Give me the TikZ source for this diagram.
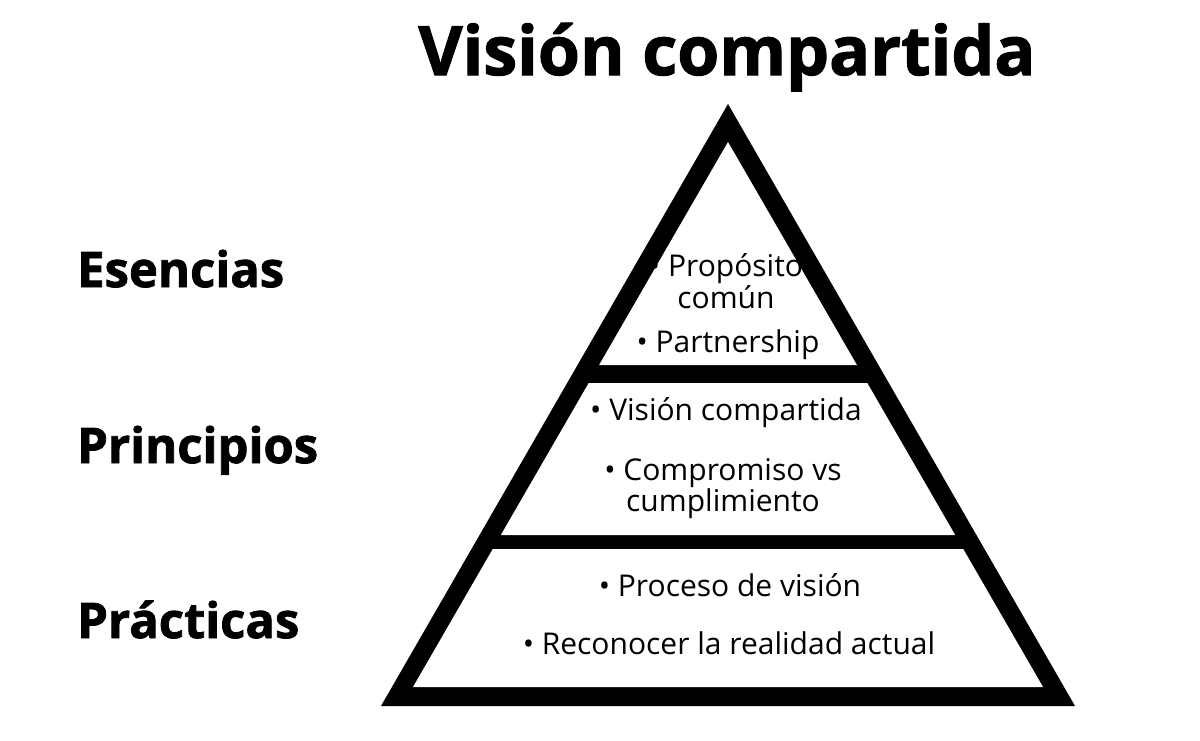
\documentclass[tikz,border=0pt]{standalone}
\usepackage{fontspec}
\setmainfont{Open Sans}
\newfontfamily\heavyfont{Open Sans}[BoldFeatures={FakeBold=1.6}]
\usepackage{tikz}
\usetikzlibrary{positioning, calc}
\definecolor{pyrInk}{HTML}{000000}
\definecolor{pyrPaper}{HTML}{FFFFFF}
\tikzset{
  heading/.style={font=\heavyfont\bfseries\fontsize{68}{74}\selectfont,
    text=pyrInk, anchor=base, inner sep=0pt},
  levelname/.style={font=\heavyfont\bfseries\fontsize{49}{54}\selectfont,
    text=pyrInk, anchor=base west, inner sep=0pt},
  item/.style={font=\fontsize{30}{25}\selectfont, text=pyrInk,
    align=center, anchor=base, inner sep=0pt},
}
% white band inside the pyramid between two heights (px, downwards)
\newcommand{\pyrband}[2]{%
  \fill[pyrPaper]
    ({728-0.578*(#1-142)},#1) --
    ({728+0.578*(#1-142)},#1) --
    ({728+0.578*(#2-142)},#2) --
    ({728-0.578*(#2-142)},#2) -- cycle;}

\begin{document}
\begin{tikzpicture}[x=1pt, y=-1pt]
    \useasboundingbox[fill=pyrPaper] (0,0) rectangle (1200,740);
    % pyramid: black body, then the three white layers
    \fill[pyrInk] (728,104) -- (381,706) -- (1075,706) -- cycle;
    \pyrband{142}{365}
    \pyrband{383}{535}
    \pyrband{549}{687}
    % title
    \node[heading] (title) at (727,75) {Visión compartida};
    % level names
    \node[levelname] (esencias) at (77,287) {Esencias};
    \node[levelname] (principios) at (77,463) {Principios};
    \node[levelname] (practicas) at (77,638) {Prácticas};
    % items, top layer (base = last line)
    \node[item] (proposito) at (726,308) {• Propósito\\común};
    \node[item] (partner) at (728,352) {• Partnership};
    % items, middle layer
    \node[item] (vision) at (726,420) {• Visión compartida};
    \node[item] (compromiso) at (723,511) {• Compromiso vs\\cumplimiento};
    % items, bottom layer
    \node[item] (proceso) at (730,596) {• Proceso de visión};
    \node[item] (realidad) at (729,654) {• Reconocer la realidad actual};
\end{tikzpicture}
\end{document}
